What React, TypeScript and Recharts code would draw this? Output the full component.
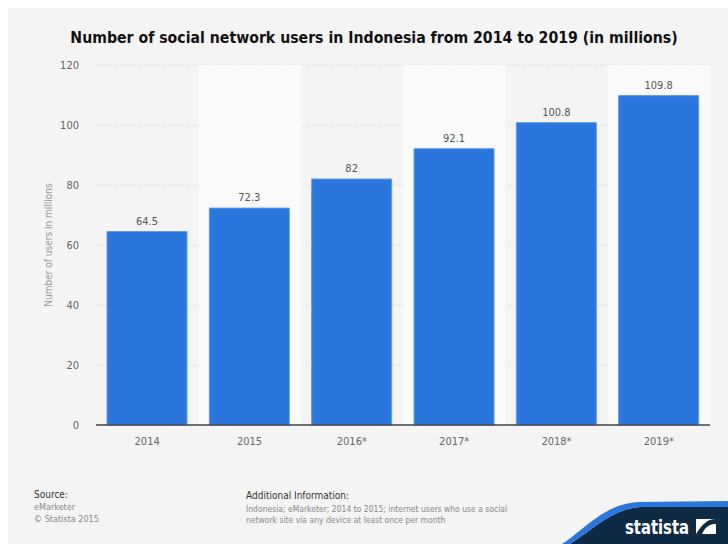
import React from "react";
import {
  BarChart,
  Bar,
  XAxis,
  YAxis,
  CartesianGrid,
  LabelList,
  ReferenceArea,
} from "recharts";

const categories = ["2014", "2015", "2016*", "2017*", "2018*", "2019*"];
const users = [64.5, 72.3, 82, 92.1, 100.8, 109.8];
const yTicks = [0, 20, 40, 60, 80, 100, 120];

const data = categories.map((year, i) => ({ year, users: users[i] }));

const FONT = "'DejaVu Sans Condensed', 'DejaVu Sans', sans-serif";

export default function App() {
  return (
    <div
      style={{
        position: "fixed",
        left: 8,
        top: 8,
        width: 720,
        height: 536,
        background: "#f4f4f4",
        fontFamily: FONT,
        overflow: "hidden",
      }}
    >
      <div
        style={{
          position: "absolute",
          top: 20,
          left: 0,
          width: 732,
          textAlign: "center",
          fontWeight: "bold",
          fontSize: 15.7,
          color: "#111",
          whiteSpace: "nowrap",
        }}
      >
        Number of social network users in Indonesia from 2014 to 2019 (in millions)
      </div>
      <BarChart
        width={720}
        height={536}
        data={data}
        margin={{ top: 57, right: 18, bottom: 89, left: 28 }}
        barSize={80}
      >
        {categories.map((c, i) =>
          i % 2 === 1 ? (
            <ReferenceArea
              key={c}
              x1={c}
              x2={c}
              fill="#fafafa"
              fillOpacity={1}
              stroke="none"
              ifOverflow="visible"
            />
          ) : null
        )}
        <CartesianGrid
          vertical={false}
          stroke="#d4d4d4"
          strokeDasharray="1 2"
        />
        <XAxis
          dataKey="year"
          height={30}
          tickLine={false}
          axisLine={{ stroke: "#444", strokeWidth: 1.5 }}
          tick={{ fill: "#666", fontSize: 11, fontFamily: FONT }}
          tickMargin={6}
          interval={0}
        />
        <YAxis
          width={60}
          domain={[0, 120]}
          ticks={yTicks}
          axisLine={false}
          tickLine={false}
          tickSize={0}
          tickMargin={17}
          tick={{ fill: "#666", fontSize: 11, fontFamily: FONT }}
        />
        <Bar
          dataKey="users"
          fill="#2a76dd"
          stroke="#5e9cec"
          strokeWidth={1}
          isAnimationActive={false}
        >
          <LabelList
            dataKey="users"
            position="top"
            offset={7}
            style={{ fill: "#555", fontSize: 11, fontFamily: FONT }}
          />
        </Bar>
      </BarChart>
      <div
        style={{
          position: "absolute",
          left: 41 - 100,
          top: 237 - 7,
          width: 200,
          height: 14,
          lineHeight: "14px",
          textAlign: "center",
          fontSize: 10,
          color: "#999",
          transform: "rotate(-90deg)",
          whiteSpace: "nowrap",
        }}
      >
        Number of users in millions
      </div>
      <div
        style={{
          position: "absolute",
          left: 26,
          top: 481,
          fontSize: 10,
          lineHeight: "12px",
          color: "#333",
        }}
      >
        <div>Source:</div>
        <div style={{ color: "#888", fontSize: 9 }}>eMarketer</div>
        <div style={{ color: "#888", fontSize: 9 }}>© Statista 2015</div>
      </div>
      <div
        style={{
          position: "absolute",
          left: 238,
          top: 482,
          fontSize: 10,
          lineHeight: "12px",
          color: "#333",
        }}
      >
        <div style={{ marginBottom: 2 }}>Additional Information:</div>
        <div style={{ color: "#888", fontSize: 8.5, lineHeight: "11px" }}>
          Indonesia; eMarketer; 2014 to 2015; internet users who use a social
        </div>
        <div style={{ color: "#888", fontSize: 8.5, lineHeight: "11px" }}>
          network site via any device at least once per month
        </div>
      </div>
      <svg
        style={{ position: "absolute", left: 552, top: 482 }}
        width={168}
        height={54}
      >
        <path
          d="M10,54 C32,40 52,19 80,17 L168,17 L168,54 Z"
          fill="#0e2a45"
        />
        <path
          d="M2,54 C24,40 44,14 78,12 L168,11 L168,17 L80,17 C52,19 32,40 10,54 Z"
          fill="#2a76dd"
        />
        <text
          x={65}
          y={44}
          fill="#fff"
          fontSize={20}
          fontWeight="bold"
          fontFamily={FONT}
          textLength={64}
          lengthAdjust="spacingAndGlyphs"
        >
          statista
        </text>
        <rect x={136} y={29} width={20} height={15} fill="#fff" />
        <path
          d="M136,44 L142,44 C146,36 150,34 156,34 L156,29 C148,29 143,33 136,44 Z"
          fill="#0e2a45"
        />
      </svg>
    </div>
  );
}
